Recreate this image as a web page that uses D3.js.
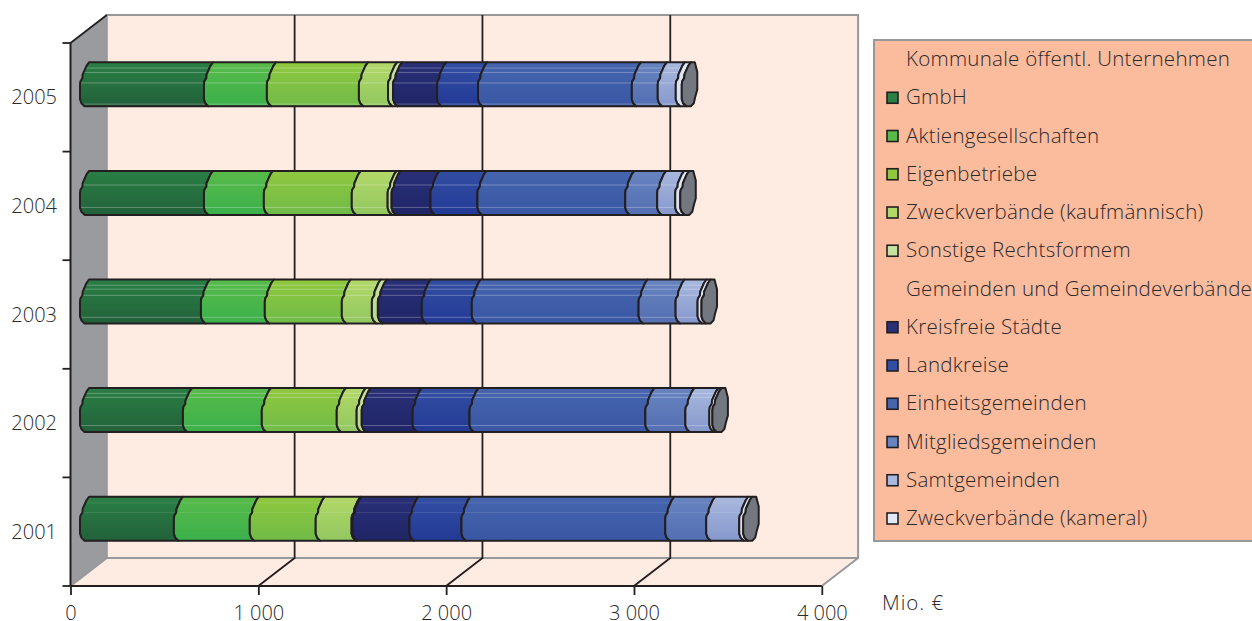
<!DOCTYPE html>
<html lang="de">
<head>
<meta charset="utf-8">
<script src="https://cdn.jsdelivr.net/npm/d3@7/dist/d3.min.js"></script>
<style>
html,body{margin:0;padding:0;background:#fff;overflow:hidden}
svg{display:block}
text{font-family:"Open Sans",sans-serif;fill:#2b292a}
</style>
</head>
<body>
<svg id="chart" width="1252" height="621"></svg>
<script>
// Kassenkredite nach Trägern, Mio. Euro
const years = ["2001","2002","2003","2004","2005"];
const gmbh        = [500, 548, 644, 660, 660];
const aktienges   = [404, 420, 340, 319, 335];
const eigenbetr   = [351, 399, 410, 468, 490];
const zweckKaufm  = [191, 106, 160, 191, 155];
const sonstige    = [  5,  27,  32,  21,  27];
const kreisfrei   = [303, 271, 234, 207, 234];
const landkreise  = [277, 303, 266, 250, 218];
const einheitsgem = [1085, 936, 888, 787, 819];
const mitglieds   = [218, 213, 197, 170, 138];
const samtgem     = [176, 128, 117,  96,  96];
const zweckKam    = [ 21,  16,  21,  27,  32];

const seriesNames = ["GmbH","Aktiengesellschaften","Eigenbetriebe","Zweckverbände (kaufmännisch)","Sonstige Rechtsformem",
  "Kreisfreie Städte","Landkreise","Einheitsgemeinden","Mitgliedsgemeinden","Samtgemeinden","Zweckverbände (kameral)"];
const seriesValues = [gmbh,aktienges,eigenbetr,zweckKaufm,sonstige,kreisfrei,landkreise,einheitsgem,mitglieds,samtgem,zweckKam];
const topColors = ["#2a7f45","#58bb4a","#8fc83e","#b2d868","#c6e2a0","#2a3078","#324ea2","#4665ae","#6784c0","#a8b8de","#e2e9f7"];
const botColors = ["#22613a","#3bb04b","#70bb48","#92c760","#b5d890","#1f2566","#233a96","#3957a4","#546fb2","#8698cd","#d5def2"];
const legendRows = ["Kommunale öffentl. Unternehmen",...seriesNames.slice(0,5),"Gemeinden und Gemeindeverbände",...seriesNames.slice(5)];
const xTicks = [0,1000,2000,3000,4000];

const svg = d3.select("#chart");
const defs = svg.append("defs");
const ink = "#231f20", frame = "#98989a", wallFill = "#feece2";

const x = d3.scaleLinear().domain([0,4000]).range([70.5,821.8]);
const y = d3.scaleBand().domain(years).range([586,43]).paddingInner(0.595).paddingOuter(0.2975);
const depthX = 36.3, depthY = 28;
const barShiftX = 9.5, barShiftY = 13;
const yTop = 43, yBottom = 586;

// Chart room: side wall, back wall, floor
const room = svg.append("g");
room.append("polygon")
  .attr("points",[[x(0)+depthX,yTop-depthY],[x(4000)+depthX,yTop-depthY],[x(4000)+depthX,yBottom-depthY],[x(4000),yBottom],[x(0),yBottom],[x(0)+depthX,yBottom-depthY]].join(" "))
  .attr("fill",wallFill);
room.append("polygon")
  .attr("points",[[x(0),yTop],[x(0)+depthX,yTop-depthY],[x(0)+depthX,yBottom-depthY],[x(0),yBottom]].join(" "))
  .attr("fill","#9a9b9f");
room.append("path")
  .attr("d",`M${x(0)+depthX},${yBottom-depthY}V${yTop-depthY}H${x(4000)+depthX}V${yBottom-depthY}H${x(0)+depthX}L${x(0)},${yBottom}M${x(4000)+depthX},${yBottom-depthY}L${x(4000)},${yBottom}`)
  .attr("fill","none").attr("stroke",frame).attr("stroke-width",2);

// Gridlines running up the back wall and across the floor
room.selectAll("path.grid").data(xTicks.slice(1,-1)).join("path").attr("class","grid")
  .attr("d",d=>`M${x(d)},${yBottom}L${x(d)+depthX},${yBottom-depthY}V${yTop-depthY}`)
  .attr("fill","none").attr("stroke",ink).attr("stroke-width",1.8);

// Axes
const fmt = d => d3.format(",")(d).replace(/,/g," ");
const xAxis = svg.append("g").attr("transform",`translate(0,${yBottom})`)
  .call(d3.axisBottom(x).tickValues(xTicks).tickFormat(fmt).tickSize(9).tickPadding(6));
const yAxis = svg.append("g").attr("transform",`translate(${x(0)},0)`)
  .call(d3.axisLeft(y).tickSize(0).tickPadding(13.5));
[xAxis,yAxis].forEach(a=>{
  a.select(".domain").attr("stroke",ink).attr("stroke-width",2);
  a.selectAll(".tick line").attr("stroke",ink).attr("stroke-width",1.8);
  a.selectAll("text").attr("font-size",20).attr("font-family",'"Open Sans",sans-serif').attr("fill","#2b292a").attr("font-weight",300);
});
yAxis.selectAll("text").attr("dy","0.35em");
xAxis.selectAll("text").attr("y",34).attr("dy",0).attr("dominant-baseline","alphabetic");
yAxis.select(".domain").attr("d",`M0,${yTop}V${yBottom}`);
xAxis.select(".domain").attr("d",`M${x(0)},0H${x(4000)}`);
svg.append("line").attr("x1",x(0)).attr("y1",yTop).attr("x2",x(0)+depthX).attr("y2",yTop-depthY)
  .attr("stroke",ink).attr("stroke-width",1.8);
svg.selectAll("line.ytick").data(d3.range(years.length+1)).join("line").attr("class","ytick")
  .attr("x1",x(0)-8).attr("x2",x(0))
  .attr("y1",i=>yBottom-i*y.step()).attr("y2",i=>yBottom-i*y.step())
  .attr("stroke",ink).attr("stroke-width",1.8);

// Gradients for the cylinder shading
seriesNames.forEach((_,i)=>{
  const g = defs.append("linearGradient").attr("id","shade"+i).attr("x1",0).attr("x2",0).attr("y1",0).attr("y2",1);
  g.append("stop").attr("offset","0%").attr("stop-color",topColors[i]);
  g.append("stop").attr("offset","100%").attr("stop-color",botColors[i]);
});

// Cross-section outline of a cylinder slice: offset from the section's x, by share of the height
const profile = [[9,0],[6.5,.08],[2.6,.28],[2.4,.36],[0.4,.43],[0,.5],[0,.84],[1.4,.93],[4.5,1]];
const edgeAt = (x0,t)=>{
  for(let i=1;i<profile.length;i++){
    if(t<=profile[i][1]){
      const pa=profile[i-1], pb=profile[i];
      return x0+pa[0]+(pb[0]-pa[0])*(t-pa[1])/(pb[1]-pa[1]);
    }
  }
  return x0+profile[profile.length-1][0];
};
const edge = (x0,top,h)=>profile.map(([dx,t])=>[x0+dx,top+t*h]);
const line = d3.line();

// Highlights along the cylinder facets, per year (share of the bar height)
const facets = {
  "2001":[.14,.36],
  "2002":[.12,.21,.85],
  "2003":[.13,.22,.36,.86],
  "2004":[.32,.83],
  "2005":[.13,.23,.47,.95]
};

const stack = d3.stack().keys(d3.range(seriesNames.length)).value((row,k)=>seriesValues[k][row]);
const stacked = stack(d3.range(years.length));
const barH = y.bandwidth();

const bars = svg.append("g");
years.forEach((yr,r)=>{
  const top = y(yr)-barShiftY;
  const g = bars.append("g");
  stacked.forEach((layer,k)=>{
    const x0 = x(layer[r][0])+barShiftX, x1 = x(layer[r][1])+barShiftX;
    const outline = edge(x0,top,barH).concat(edge(x1,top,barH).reverse());
    const d = line(outline)+"Z";
    g.append("path").attr("d",d).attr("fill",`url(#shade${k})`);
    if(x1-x0>8){
      facets[yr].forEach(t=>{
        g.append("line")
          .attr("x1",edgeAt(x0,t)).attr("x2",edgeAt(x1,t))
          .attr("y1",top+t*barH).attr("y2",top+t*barH)
          .attr("stroke","#fff").attr("stroke-opacity",yr==="2001"?.1:.28).attr("stroke-width",1);
      });
    }
    g.append("path").attr("d",d).attr("fill","none").attr("stroke",ink).attr("stroke-width",2).attr("stroke-linejoin","round");
  });
  // End cap of the stack
  const xe = x(stacked[stacked.length-1][r][1])+barShiftX;
  const right = [[15.5,.22],[15.5,.62],[13.5,.78],[12,.93],[9,1]].map(([dx,t])=>[xe+dx,top+t*barH]);
  const cap = edge(xe,top,barH).concat(right.reverse(),[[xe+13,top]]);
  g.append("path").attr("d",line(cap)+"Z").attr("fill","#73777f").attr("stroke",ink).attr("stroke-width",2).attr("stroke-linejoin","round");
});

// Legend
const legend = svg.append("g");
legend.append("rect").attr("x",874).attr("y",40).attr("width",390).attr("height",501)
  .attr("fill","#fbbb9d").attr("stroke",frame).attr("stroke-width",2);
const rowY = d3.scalePoint().domain(d3.range(legendRows.length)).range([59,518]);
legendRows.forEach((label,i)=>{
  const k = seriesNames.indexOf(label);
  legend.append("text").attr("x",906).attr("y",rowY(i)+7).attr("font-size",20.5).attr("font-weight",300)
    .attr("letter-spacing",.28).text(label);
  if(k>=0){
    legend.append("rect").attr("x",887).attr("y",rowY(i)-5).attr("width",11).attr("height",11)
      .attr("fill",topColors[k]).attr("stroke",ink).attr("stroke-width",1.6);
  }
});
svg.append("text").attr("x",882).attr("y",610).attr("font-size",20.5).attr("font-weight",300)
  .attr("letter-spacing",1).text("Mio. €");
</script>
</body>
</html>
